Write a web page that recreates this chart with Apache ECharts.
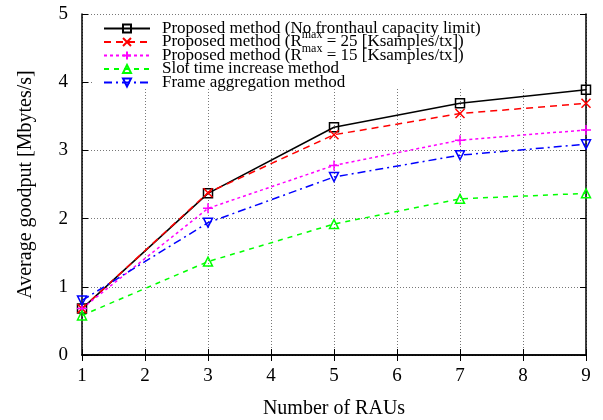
<!DOCTYPE html>
<html>
<head>
<meta charset="utf-8">
<script src="https://cdn.jsdelivr.net/npm/echarts@6/dist/echarts.min.js"></script>
<style>
    html, body {margin: 0; padding: 0; background: #fff;}
    #chart {width: 603px; height: 420px;}
</style>
</head>
<body>
<div id="chart"></div>
<script>
// data
var raus = [1, 3, 5, 7, 9];
var seriesNames = [
    'Proposed method (No fronthaul capacity limit)',
    'Proposed method (Rmax = 25 [Ksamples/tx])',
    'Proposed method (Rmax = 15 [Ksamples/tx])',
    'Slot time increase method',
    'Frame aggregation method'
];
var noLimit = [0.68, 2.37, 3.34, 3.69, 3.89];
var rmax25 = [0.68, 2.38, 3.23, 3.54, 3.69];
var rmax15 = [0.68, 2.15, 2.78, 3.15, 3.30];
var slotTime = [0.58, 1.37, 1.92, 2.29, 2.37];
var frameAgg = [0.80, 1.94, 2.61, 2.93, 3.09];
var xTicks = [1, 2, 3, 4, 5, 6, 7, 8, 9];
var yTicks = [0, 1, 2, 3, 4, 5];

var FONT = '"Liberation Serif", "DejaVu Serif", serif';

function pairs(ys) {
    var out = [];
    for (var i = 0; i < raus.length; i++) {
        out.push([raus[i], ys[i]]);
    }
    return out;
}

function makeSeries(name, ys, color, dash, symbol, rotate, size) {
    return {
        name: name,
        type: 'line',
        data: pairs(ys),
        clip: false,
        symbol: symbol,
        symbolSize: size,
        symbolRotate: rotate,
        showAllSymbol: true,
        lineStyle: {color: color, width: 1.5, type: dash},
        itemStyle: {color: 'rgba(0,0,0,0)', borderColor: color, borderWidth: 1.5},
        emphasis: {disabled: true}
    };
}

var frameAxis = {
    axisLine: {show: true, lineStyle: {color: '#000', width: 1.5}},
    axisTick: {show: true, inside: true, length: 6, lineStyle: {color: '#000', width: 1}},
    axisLabel: {show: false},
    splitLine: {show: false}
};

var option = {
    animation: false,
    backgroundColor: '#fff',
    grid: {left: 82, right: 17, top: 14, bottom: 65, containLabel: false, outerBoundsMode: 'none'},
    // white key box that hides the grid under the legend
    graphic: [{
        type: 'rect',
        z: 1,
        shape: {x: 92, y: 15, width: 493, height: 73},
        style: {fill: '#fff'}
    }],
    legend: {
        orient: 'vertical',
        left: 103,
        top: 15,
        padding: 0,
        itemWidth: 46,
        itemHeight: 10,
        itemGap: -13.5,
        selectedMode: false,
        data: seriesNames,
        formatter: function (name) {
            // every row gets the same superscript token so rows keep equal height
            if (name.indexOf('Rmax') >= 0) {
                return '{m|' + name.replace('Rmax', 'R}{s|max}{m|') + '}';
            }
            return '{m|' + name + '}{s| }';
        },
        textStyle: {
            fontFamily: FONT,
            fontSize: 17,
            color: '#000',
            padding: [0, 0, 0, 7],
            rich: {
                m: {fontFamily: FONT, fontSize: 17, color: '#000', lineHeight: 13},
                s: {fontFamily: FONT, fontSize: 12, color: '#000', lineHeight: 13, height: 13, padding: [0, 0, 14, 0]}
            }
        }
    },
    xAxis: [{
        type: 'value',
        min: 1,
        max: 9,
        interval: 1,
        name: 'Number of RAUs',
        nameLocation: 'middle',
        nameGap: 44,
        nameTextStyle: {fontFamily: FONT, fontSize: 20, color: '#000'},
        axisLine: {show: true, onZero: false, lineStyle: {color: '#000', width: 1.5}},
        axisTick: {show: true, inside: true, length: 6, lineStyle: {color: '#000'}},
        axisLabel: {
            fontFamily: FONT, fontSize: 19, color: '#000', margin: 12,
            formatter: function (v) { return xTicks.indexOf(v) >= 0 ? String(v) : ''; }
        },
        splitLine: {show: true, lineStyle: {color: '#777', type: [1, 2], width: 1}}
    }, Object.assign({type: 'value', position: 'top', min: 1, max: 9, interval: 1}, frameAxis)],
    yAxis: [{
        type: 'value',
        min: 0,
        max: 5,
        interval: 1,
        name: 'Average goodput [Mbytes/s]',
        nameLocation: 'middle',
        nameGap: 46,
        nameTextStyle: {fontFamily: FONT, fontSize: 20, color: '#000'},
        axisLine: {show: true, onZero: false, lineStyle: {color: '#000', width: 1.5}},
        axisTick: {show: true, inside: true, length: 6, lineStyle: {color: '#000'}},
        axisLabel: {
            fontFamily: FONT, fontSize: 19, color: '#000', margin: 14,
            formatter: function (v) { return yTicks.indexOf(v) >= 0 ? String(v) : ''; }
        },
        splitLine: {show: true, lineStyle: {color: '#777', type: [1, 2], width: 1}}
    }, Object.assign({type: 'value', position: 'right', min: 0, max: 5, interval: 1}, frameAxis)],
    series: [
        makeSeries(seriesNames[0], noLimit, '#000000', 'solid', 'rect', 0, 9),
        makeSeries(seriesNames[1], rmax25, '#ff0000', [7, 5], 'path://M0,0L10,10M10,0L0,10', 0, 9),
        makeSeries(seriesNames[2], rmax15, '#ff00ff', [3, 3], 'path://M5,0L5,10M0,5L10,5', 0, 10),
        makeSeries(seriesNames[3], slotTime, '#00ff00', [5, 5], 'triangle', 0, 9),
        makeSeries(seriesNames[4], frameAgg, '#0000ff', [8, 4, 2, 4], 'triangle', 180, 9)
    ]
};

var myChart = echarts.init(document.getElementById('chart'));
myChart.setOption(option);
</script>
</body>
</html>
